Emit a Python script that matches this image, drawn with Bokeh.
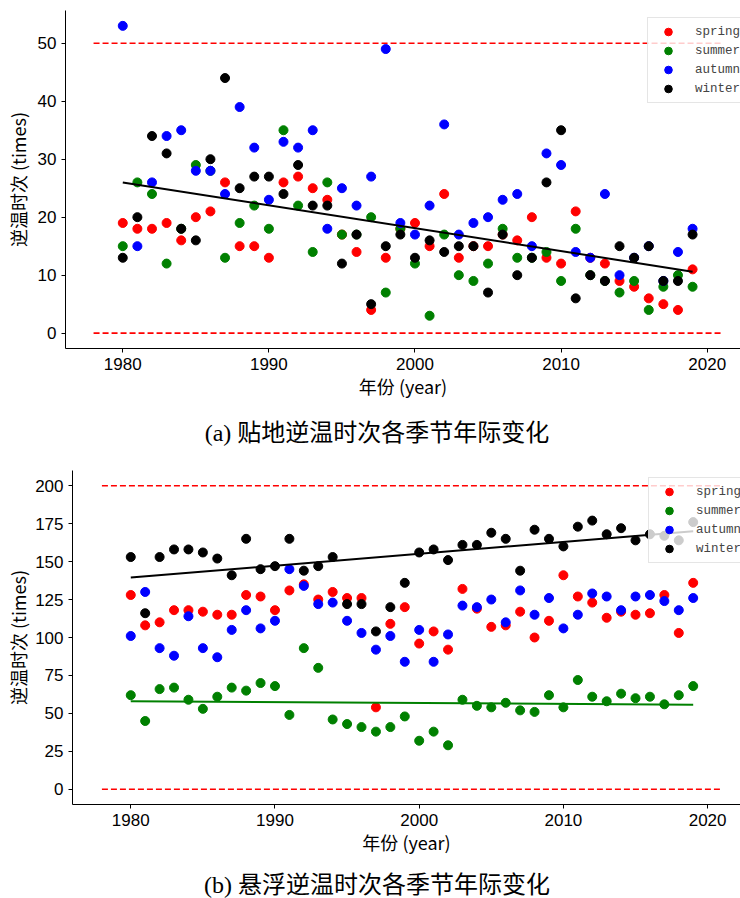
from bokeh.plotting import figure
from bokeh.layouts import column
from bokeh.models import FixedTicker, Range1d, Div
from bokeh.embed import file_html
from bokeh.resources import INLINE

years = list(range(1980, 2020))
season_names = ["spring", "summer", "autumn", "winter"]
season_colors = ["red", "green", "blue", "black"]

# (a) surface inversion counts
surf_spring = [19, 18, 18, 19, 16, 20, 21, 26, 15, 15, 13, 26, 27, 25, 23, 17, 14, 4, 13, 18,
               19, 15, 24, 13, 15, 15, 17, 16, 20, 13, 12, 21, 13, 12, 9, 8, 6, 5, 4, 11]
surf_summer = [15, 26, 24, 12, 18, 29, 28, 13, 19, 22, 18, 35, 22, 14, 26, 17, 17, 20, 7, 18,
               12, 3, 17, 10, 9, 12, 18, 13, 13, 14, 9, 18, 10, 9, 7, 9, 4, 8, 10, 8]
surf_autumn = [53, 15, 26, 34, 35, 28, 28, 24, 39, 32, 23, 33, 32, 35, 18, 25, 22, 27, 49, 19,
               17, 22, 36, 17, 19, 20, 23, 24, 15, 31, 29, 14, 13, 24, 10, 13, 15, 9, 14, 18]
surf_winter = [13, 20, 34, 31, 18, 16, 30, 44, 25, 27, 27, 24, 29, 22, 22, 12, 17, 5, 15, 17,
               13, 16, 14, 15, 15, 7, 17, 10, 13, 26, 35, 6, 10, 9, 15, 13, 15, 9, 9, 17]
surf_trend_x = [1980, 2019]
surf_trend_y = [26.0, 10.6]
surf_limits = [0, 50]

# (b) elevated inversion counts
elev_spring = [128, 108, 110, 118, 118, 117, 115, 115, 128, 127, 118, 131, 135, 125, 130, 126, 126, 54, 109, 120,
               96, 104, 92, 132, 119, 107, 108, 117, 100, 111, 141, 127, 123, 113, 117, 115, 116, 128, 103, 136]
elev_summer = [62, 45, 66, 67, 59, 53, 61, 67, 65, 70, 68, 49, 93, 80, 46, 43, 41, 38, 41, 48,
               32, 38, 29, 59, 55, 54, 57, 52, 51, 62, 54, 72, 61, 58, 63, 60, 61, 56, 62, 68]
elev_autumn = [101, 130, 93, 88, 114, 93, 87, 105, 118, 106, 111, 145, 134, 122, 123, 111, 103, 92, 101, 84,
               105, 84, 102, 121, 120, 125, 110, 131, 115, 126, 106, 115, 129, 127, 118, 127, 128, 124, 118, 126]
elev_winter = [153, 116, 153, 158, 158, 156, 152, 141, 165, 145, 147, 165, 144, 147, 153, 122, 122, 104, 120, 136,
               156, 158, 151, 161, 161, 169, 165, 144, 171, 165, 160, 173, 177, 168, 172, 164, 168, 167, 164, 176]
elev_trend_x = [1980, 2019]
elev_trend_winter = [139.5, 170.0]
elev_trend_summer = [58.0, 55.7]
elev_limits = [0, 200]

limit_x = [1978, 2021]
x_ticks = [1980, 1990, 2000, 2010, 2020]
surf_y_ticks = [0, 10, 20, 30, 40, 50]
elev_y_ticks = [0, 25, 50, 75, 100, 125, 150, 175, 200]

x_title = "年份 (year)"
y_title = "逆温时次 (times)"
caption_a = "(a) 贴地逆温时次各季节年际变化"
caption_b = "(b) 悬浮逆温时次各季节年际变化"

LABEL_FONT = "Noto Sans CJK SC"
NUM = "Liberation Sans"
MONO = "Liberation Mono"
CAP_FONT = "'Liberation Serif', 'Noto Sans CJK SC', serif"


def make_panel(series, trend_x, trends, limits, yticks, yr, xr, height, left, top, bottom,
               leg_loc, ylab_standoff):
    p = figure(width=740, height=height, output_backend="svg", toolbar_location=None,
               x_range=Range1d(*xr), y_range=Range1d(*yr),
               min_border_left=left, min_border_right=0, min_border_top=top,
               min_border_bottom=bottom, background_fill_color="white",
               border_fill_color="white", frame_align=False)
    p.outline_line_color = None
    p.xgrid.visible = False
    p.ygrid.visible = False
    for vals, name, col in zip(series, season_names, season_colors):
        p.scatter(years, vals, size=9, color=col, legend_label=name)
    for ty, col in trends:
        p.line(trend_x, ty, color=col, line_width=2)
    for lv in limits:
        p.line(limit_x, [lv, lv], color="red", line_dash="6 3", line_width=1.6)

    p.xaxis.ticker = FixedTicker(ticks=x_ticks)
    p.yaxis.ticker = FixedTicker(ticks=yticks)
    for ax in (p.xaxis[0], p.yaxis[0]):
        ax.axis_line_color = "black"
        ax.axis_line_width = 1
        ax.major_tick_out = 4
        ax.major_tick_in = 0
        ax.major_tick_line_color = "black"
        ax.minor_tick_line_color = None
        ax.major_label_text_font = NUM
        ax.major_label_text_font_size = "17px"
        ax.major_label_text_color = "black"
        ax.axis_label_text_font = LABEL_FONT
        ax.axis_label_text_font_size = "18px"
        ax.axis_label_text_font_style = "normal"
        ax.axis_label_text_color = "black"
    p.xaxis.major_label_standoff = 5
    p.xaxis.axis_label_standoff = 0
    p.yaxis.major_label_standoff = 5
    p.yaxis.axis_label_standoff = ylab_standoff
    p.xaxis.axis_label = x_title
    p.yaxis.axis_label = y_title

    leg = p.legend[0]
    leg.location = leg_loc
    leg.padding = 4
    leg.glyph_width = 32
    leg.glyph_height = 19
    leg.label_height = 19
    leg.label_standoff = 11
    leg.spacing = 0
    leg.margin = 0
    leg.label_text_font = MONO
    leg.label_text_font_size = "12.5px"
    leg.background_fill_alpha = 0.8
    leg.border_line_color = "#cccccc"
    leg.border_line_width = 1
    return p


def caption_div(text, height, center_y):
    html = ('<div style="position:relative;width:740px;height:%dpx;">'
            '<div style="position:absolute;left:377px;top:%dpx;transform:translate(-50%%,-50%%);'
            'white-space:nowrap;font-family:%s;font-size:24px;line-height:1;color:black;">%s</div></div>'
            % (height, center_y, CAP_FONT, text))
    return Div(text=html, width=740, height=height, margin=0)


p1 = make_panel([surf_spring, surf_summer, surf_autumn, surf_winter], surf_trend_x,
                [(surf_trend_y, "black")], surf_limits, surf_y_ticks,
                (-2.65, 55.65), (1976.08, 2022.28), 408, 65, 10, 60, (582, 245), 4)
d1 = caption_div(caption_a, 46, 25)
p2 = make_panel([elev_spring, elev_summer, elev_autumn, elev_winter], elev_trend_x,
                [(elev_trend_winter, "black"), (elev_trend_summer, "green")], elev_limits, elev_y_ticks,
                (-10, 210), (1975.96, 2022.28), 410, 72, 16, 60, (576, 241), 1)
d2 = caption_div(caption_b, 34, 21)

layout = column(p1, d1, p2, d2, spacing=0)
open("out.html", "w").write(file_html(layout, INLINE))
